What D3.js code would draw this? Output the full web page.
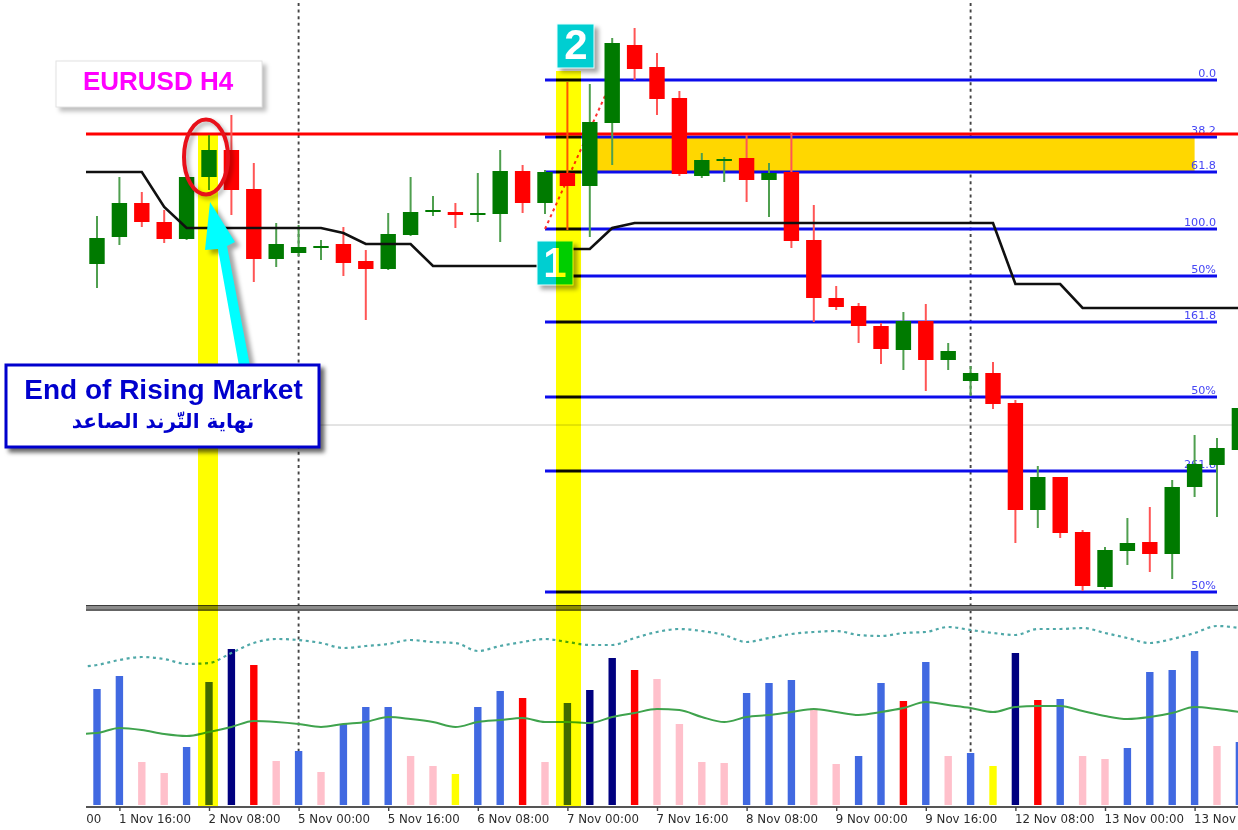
<!DOCTYPE html>
<html><head><meta charset="utf-8">
<script src="https://cdn.jsdelivr.net/npm/d3@7"></script>
<style>
html,body{margin:0;padding:0;background:#fff;overflow:hidden}
svg{display:block;filter:blur(0.45px)}
text{font-family:"DejaVu Sans",sans-serif}
</style></head><body><div id="c"></div>
<script>
// Price readings, in points above the bottom of the price pane
const open_ =[342,369,403,384,367,429,456,417,347,353,359,362,345,337,371,394,394,391,392,435,403,433,420,483,561,539,508,430,445,448,426,434,366,308,300,280,256,285,246,225,233,203,96,129,74,19,55,64,52,119,141,156];
const high_ =[390,429,414,396,429,471,491,443,383,381,366,379,356,393,429,410,403,433,456,441,436,524,522,568,578,553,515,453,449,471,443,474,401,320,303,283,294,302,263,240,244,206,140,129,76,59,88,99,126,171,168,206];
const low_  =[318,361,379,363,366,416,391,324,339,350,346,330,286,336,370,390,378,384,364,393,392,376,369,441,526,491,430,428,424,404,389,358,284,296,263,242,236,215,236,210,197,63,78,68,15,17,41,34,27,109,89,146];
const close_=[368,403,384,367,429,456,416,347,362,359,360,343,337,372,394,396,391,393,435,403,434,420,484,563,537,507,432,446,447,426,433,365,308,299,280,257,285,246,255,233,202,96,129,73,20,56,63,52,119,142,158,198];
// Moving average on the price pane (starts one bar before the first candle)
const maPrice=[434,434,434,434,399,378,378,378,378,378,378,378,373,362,362,362,340,340,340,340,340,340,357,357,378,383,383,383,383,383,383,383,383,383,383,383,383,383,383,383,383,383,322,322,322,298,298,298,298,298,298,298,298];
// Fibonacci levels
const fibLevels=[526,469,434,377,330,284,209,135,14];
const fibLabels=["0.0","38.2","61.8","100.0","50%","161.8","50%","261.8","50%"];
const resistance=472, currentPrice=181;
const zoneTop=469, zoneBottom=434;
// Volume pane
const volume=[117,130,44,33,59,124,157,141,45,55,34,82,99,99,50,40,32,99,115,108,44,103,116,148,136,127,82,44,43,113,123,126,98,42,50,123,105,144,50,53,40,153,106,107,50,47,58,134,136,155,60,64];
const volClass=["b","b","p","p","b","b","n","r","p","b","p","b","b","b","p","p","y","b","b","r","p","b","n","n","r","p","p","p","p","b","b","b","p","p","b","b","r","b","p","b","y","n","r","b","p","p","b","b","b","b","p","b"];
const volMA=[72,73,78,76,72,70,74,79,85,84,82,79,82,84,89,87,84,79,84,86,88,84,84,83,89,93,97,96,89,84,89,91,94,97,94,91,94,98,104,101,98,94,99,100,100,95,90,87,89,93,99,97,94];
const volUpper=[139,141,146,149,147,142,143,153,163,167,166,163,158,160,162,166,164,163,155,160,164,167,164,161,161,168,174,177,175,171,164,168,172,174,175,171,170,173,174,179,176,173,171,177,177,178,173,168,163,167,173,180,178];
// Time axis (the first and last labels are only partly visible in the picture)
const tickBars=[-0.5,1,5,9,13,17,21,25,29,33,37,41,45,49];
const tickLabels=["00","1 Nov 16:00","2 Nov 08:00","5 Nov 00:00","5 Nov 16:00","6 Nov 08:00","7 Nov 00:00","7 Nov 16:00","8 Nov 08:00","9 Nov 00:00","9 Nov 16:00","12 Nov 08:00","13 Nov 00:00","13 Nov"];
const separatorBars=[9,39];
const highlightBars=[5,21];
const fibStart=20, fibEnd=50, zoneStart=22, zoneEnd=49;

const W=1238,H=830,left=86;
const paneBottom=606, volBottom=806;
const x=d3.scaleLinear().domain([0,51]).range([97,97+22.4*51]);
const y=d3.scaleLinear().domain([0,606]).range([paneBottom,0]);
const v=d3.scaleLinear().domain([0,200]).range([volBottom,volBottom-200]);
const volColor={b:"#4169E1",p:"#FFC0CB",r:"#FF0000",n:"#000080",y:"#FFFF00"};
const bars=d3.range(52);

const root=d3.select("#c").append("svg").attr("width",W).attr("height",H).attr("viewBox",[0,0,W,H]);
root.append("defs").append("clipPath").attr("id","plot").append("rect").attr("x",left).attr("y",0).attr("width",W-left).attr("height",H);
const svg=root.append("g").style("isolation","isolate");
svg.append("rect").attr("width",W).attr("height",H).attr("fill","#fff");
const g=svg.append("g").attr("clip-path","url(#plot)");

// current price line and period separators
g.append("line").attr("x1",left).attr("x2",W).attr("y1",y(currentPrice)).attr("y2",y(currentPrice)).attr("stroke","#c8c8c8").attr("stroke-width",1);
g.selectAll(".sep").data(separatorBars).join("line").attr("x1",d=>x(d)).attr("x2",d=>x(d)).attr("y1",3).attr("y2",volBottom)
 .attr("stroke","#444").attr("stroke-width",1.9).attr("stroke-dasharray","3,3.6");

// fibonacci zone, levels
g.append("rect").attr("x",x(zoneStart)).attr("width",x(zoneEnd)-x(zoneStart)).attr("y",y(zoneTop)).attr("height",y(zoneBottom)-y(zoneTop)).attr("fill","#FFD700");
g.selectAll(".fibt").data(fibLevels).join("text").attr("x",x(fibEnd)-1).attr("y",d=>y(d)-3).attr("text-anchor","end")
 .attr("font-size",11.2).attr("font-weight",500).attr("fill","#4646f5").text((d,i)=>fibLabels[i]);
g.selectAll(".fib").data(fibLevels).join("line").attr("x1",x(fibStart)).attr("x2",x(fibEnd)).attr("y1",d=>y(d)).attr("y2",d=>y(d)).attr("stroke","#0c0ceb").attr("stroke-width",2.8);
g.append("line").attr("x1",x(fibStart)).attr("y1",y(fibLevels[3])).attr("x2",x(23)).attr("y2",y(fibLevels[0]))
 .attr("stroke","#ff3030").attr("stroke-width",2).attr("stroke-dasharray","3,3.5");
g.append("line").attr("x1",left).attr("x2",W).attr("y1",y(resistance)).attr("y2",y(resistance)).attr("stroke","#FF0000").attr("stroke-width",2.8);

// candles
const candleColor=i=>close_[i]>=open_[i]?"#007a00":"#FF0000";
const wickColor=i=>close_[i]>=open_[i]?"#4f9f4f":"#ff5555";
g.selectAll(".wick").data(bars).join("line").attr("x1",x).attr("x2",x).attr("y1",i=>y(high_[i])).attr("y2",i=>y(low_[i])).attr("stroke",wickColor).attr("stroke-width",2);
g.selectAll(".body").data(bars).join("rect").attr("x",i=>x(i)-7.7).attr("width",15.4)
 .attr("y",i=>y(Math.max(open_[i],close_[i]))).attr("height",i=>Math.max(2,Math.abs(y(open_[i])-y(close_[i])))).attr("fill",candleColor);

// moving average on price
const lineX=d3.line().x((d,i)=>x(i-1));
g.append("path").attr("d",lineX.y(d=>y(d))(maPrice)).attr("fill","none").attr("stroke","#101010").attr("stroke-width",2.6);

// separator of panes
g.append("rect").attr("x",left).attr("width",W-left).attr("y",paneBottom-1).attr("height",6).attr("fill","#8c8c8c");
g.selectAll(".paneline").data([paneBottom-0.5,paneBottom+4]).join("line").attr("x1",left).attr("x2",W).attr("y1",d=>d).attr("y2",d=>d).attr("stroke","#3c3c3c").attr("stroke-width",1.2);

// volume
g.selectAll(".vol").data(bars).join("rect").attr("x",i=>x(i)-3.7).attr("width",7.4).attr("y",i=>v(volume[i])).attr("height",i=>volBottom-v(volume[i])-1).attr("fill",i=>volColor[volClass[i]]);
const smooth=d3.line().x((d,i)=>x(i-1)).curve(d3.curveMonotoneX);
g.append("path").attr("d",smooth.y(d=>v(d))(volMA)).attr("fill","none").attr("stroke","#3fa34d").attr("stroke-width",2);
g.append("path").attr("d",smooth.y(d=>v(d))(volUpper)).attr("fill","none").attr("stroke","#4fa8a8").attr("stroke-width",2.2).attr("stroke-dasharray","3,3.6");

// box 1 (sits under the highlight band)
const shadow="drop-shadow(4px 4px 2px rgba(0,0,0,.35))";
const box1=g.append("g").style("filter",shadow);
box1.append("rect").attr("x",537).attr("y",241).attr("width",36).attr("height",44).attr("fill","#00CED1").attr("stroke","#e8ffff").attr("stroke-width",1);
box1.append("text").attr("x",555).attr("y",277).attr("text-anchor","middle").style("font-family","'Liberation Sans'").attr("font-weight","bold").attr("font-size",42).attr("fill","#fff").text("1");

// highlight bands multiply with what is beneath
g.selectAll(".band").data(highlightBars).join("rect").attr("x",d=>d===5?198:556).attr("width",d=>d===5?20:25)
 .attr("y",d=>d===5?135:71).attr("height",d=>volBottom-(d===5?135:71)).attr("fill","#FFFF00").style("mix-blend-mode","multiply");

// time axis
svg.append("line").attr("x1",left).attr("x2",W).attr("y1",807).attr("y2",807).attr("stroke","#555").attr("stroke-width",1.8);
const ax=d3.axisBottom(x).tickValues(tickBars).tickFormat((d,i)=>tickLabels[i]).tickSize(4).tickPadding(4);
const axg=svg.append("g").attr("clip-path","url(#plot)").append("g").attr("transform","translate(0,807)").call(ax);
axg.select(".domain").remove();
axg.selectAll("line").filter(d=>d<0).remove();
axg.selectAll("line").attr("stroke","#444").attr("stroke-width",1.4);
axg.selectAll("text").attr("text-anchor","start").attr("dx",d=>d<0?0:-1).attr("font-size",11.8).attr("fill","#2a2a2a").style("font-family","'DejaVu Sans'");

// annotations
const a=svg.append("g").style("font-family","'Liberation Sans'");
const b0=a.append("g").style("filter","drop-shadow(4px 4px 2px rgba(0,0,0,.25))");
b0.append("rect").attr("x",56).attr("y",61).attr("width",206).attr("height",46).attr("fill","#fff").attr("stroke","#e2e2e2");
b0.append("text").attr("x",158).attr("y",90).attr("text-anchor","middle").style("font-family","'Liberation Sans'").attr("font-weight","bold").attr("font-size",26).attr("fill","#FF00FF").text("EURUSD H4");

a.append("ellipse").attr("cx",206).attr("cy",157).attr("rx",22).attr("ry",37.5).attr("fill","none").attr("stroke","#e8101a").attr("stroke-width",4).style("filter","drop-shadow(3px 3px 2px rgba(0,0,0,.3))");

a.append("polygon").attr("points","210,202 235,242 227,246 250,366 239,366 218,249 205,250").attr("fill","#00FFFF").style("filter","drop-shadow(5px 4px 2px rgba(0,0,0,.35))");

const b3=a.append("g").style("filter","drop-shadow(4px 4px 2px rgba(0,0,0,.6))");
b3.append("rect").attr("x",6).attr("y",365).attr("width",313).attr("height",82).attr("fill","#fff").attr("stroke","#0000CD").attr("stroke-width",3);
b3.append("text").attr("x",163.5).attr("y",399).attr("text-anchor","middle").style("font-family","'Liberation Sans'").attr("font-weight","bold").attr("font-size",28).attr("fill","#0000CD").text("End of Rising Market");
b3.append("text").attr("x",163).attr("y",428).attr("text-anchor","middle").style("font-family","'DejaVu Sans'").style("direction","rtl").attr("font-weight","bold").attr("font-size",20).attr("fill","#0000CD").text("نهاية التّرند الصاعد");

const b2=a.append("g").style("filter",shadow);
b2.append("rect").attr("x",557).attr("y",24).attr("width",37).attr("height",44).attr("fill","#00CED1").attr("stroke","#e8ffff").attr("stroke-width",1);
b2.append("text").attr("x",576).attr("y",59).attr("text-anchor","middle").style("font-family","'Liberation Sans'").attr("font-weight","bold").attr("font-size",42).attr("fill","#fff").text("2");
</script></body></html>
